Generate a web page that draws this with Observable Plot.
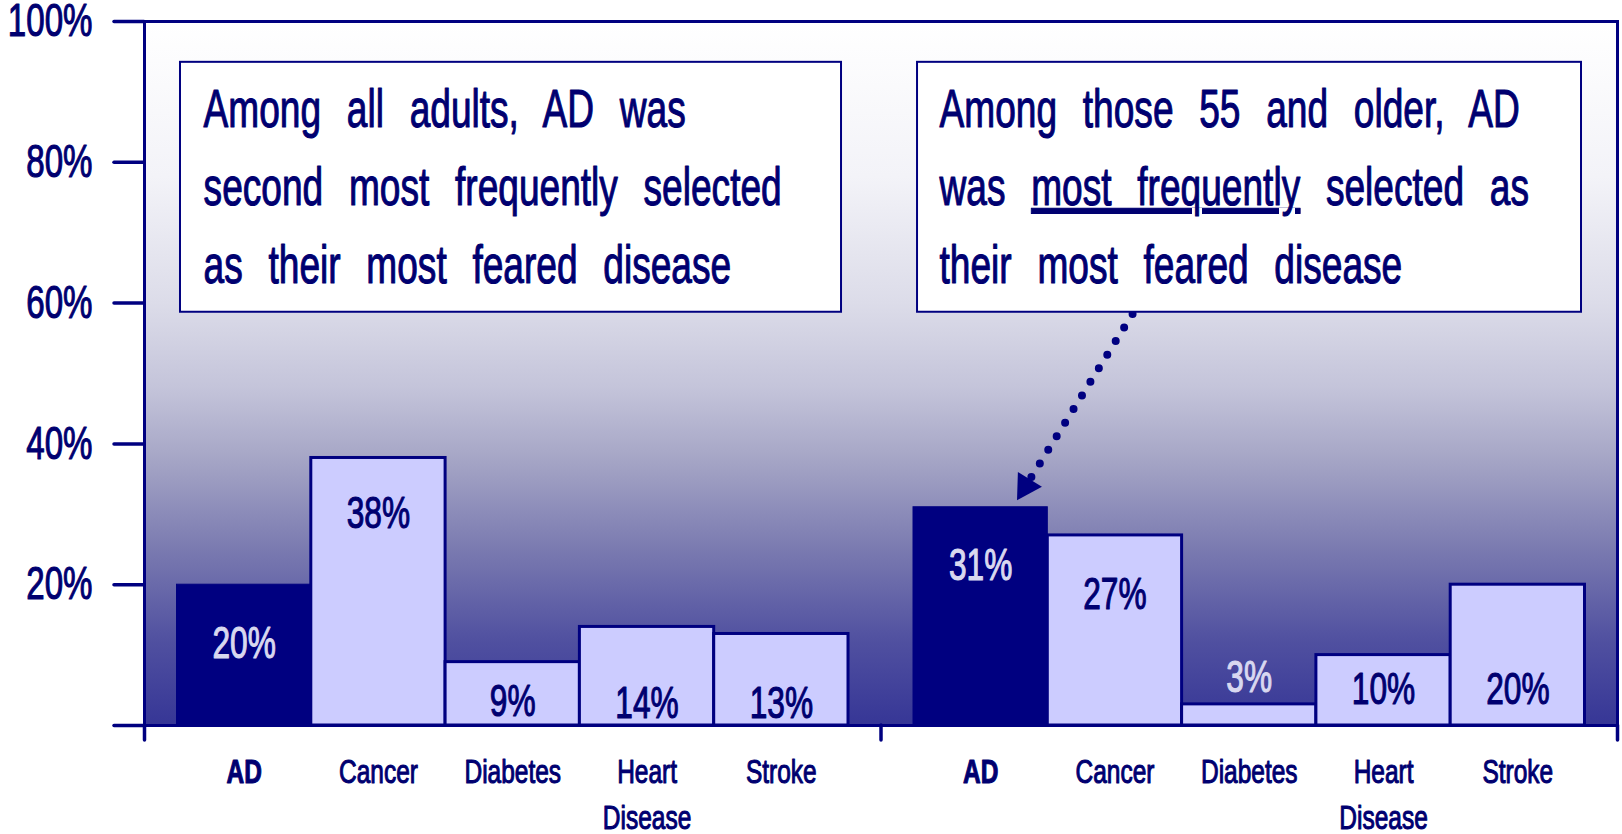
<!DOCTYPE html>
<html><head><meta charset="utf-8">
<script src="https://cdn.jsdelivr.net/npm/d3@7"></script>
<script src="https://cdn.jsdelivr.net/npm/@observablehq/plot@0.6"></script>
<style>
html,body{margin:0;padding:0;background:#fff;}
#chart svg{display:block;}
</style></head><body><div id="chart"></div>
<script>
// ---------- data ----------
const groups = ["All adults", "55 and older"];
const diseases = ["AD", "Cancer", "Diabetes", "Heart Disease", "Stroke"];
const tickLabels = ["AD", "Cancer", "Diabetes", "Heart\nDisease", "Stroke"];
const allAdults = [20, 38, 9, 14, 13];
const olderAdults = [31, 27, 3, 10, 20];
// vertical placement of each value label (in % units)
const allAdultsLabelAt = [11.6, 30, 3.4, 3.1, 3.1];
const olderAdultsLabelAt = [22.7, 18.5, 6.7, 5.0, 5.0];
const yTicks = [0, 20, 40, 60, 80, 100];
const yTickLabels = ["", "20%", "40%", "60%", "80%", "100%"];
const noteAll = ["Among all adults, AD was", "second most frequently selected", "as their most feared disease"];
const noteOlder = ["Among those 55 and older, AD", "was most frequently selected as", "their most feared disease"];
const underlined = "most frequently";
// annotation anchors (data units: x in bar slots, y in %)
const noteBoxX1 = [0.268, 5.756];
const noteBoxX2 = [5.19, 10.70];
const noteBoxY1 = [58.7, 58.7];
const noteBoxY2 = [94.2, 94.2];
const noteTextX = [0.44, 5.92];
const noteTextY = [92.9, 92.9];
const arrowFrom = [7.42, 60.4];
const arrowTo = [6.50, 32.1];

// ---------- layout / style ----------
const W = 1622, H = 834, ML = 144, MR = 5, MT = 21, MB = 109;
const NAVY = "#000080";
const TEXT = "#000070";
const LIGHT = "#ccccff";
const FONT = '"Liberation Sans", Arial, sans-serif';
const SQUEEZE = 0.72;      // condensed look of the original typeface
const NOTE_SQUEEZE = 0.70;
const pad = 0.242;
const groupWidth = diseases.length + 2 * pad;

const rows = [];
[allAdults, olderAdults].forEach((vals, g) => {
  const labs = g === 0 ? allAdultsLabelAt : olderAdultsLabelAt;
  vals.forEach((v, i) => {
    const x1 = g * groupWidth + pad + i;
    rows.push({group: groups[g], disease: diseases[i], label: tickLabels[i], value: v,
      x1, x2: x1 + 1, xc: x1 + 0.5, labelAt: labs[i], ad: i === 0});
  });
});
const labelByX = new Map(rows.map(d => [d.xc, d.label]));
const yLabelByTick = new Map(yTicks.map((t, i) => [t, yTickLabels[i]]));
const boundaries = groups.map((g, i) => i * groupWidth).concat([groups.length * groupWidth]);

const notes = [noteAll, noteOlder].map((lines, i) => ({
  x1: noteBoxX1[i], x2: noteBoxX2[i], y1: noteBoxY1[i], y2: noteBoxY2[i],
  tx: noteTextX[i], ty: noteTextY[i], text: lines.join("\n")
}));

// arrow geometry (converted through the same layout)
const pxX = (W - ML - MR) / (groups.length * groupWidth);
const pxY = (H - MT - MB) / 100;
const dxp = (arrowTo[0] - arrowFrom[0]) * pxX;
const dyp = -(arrowTo[1] - arrowFrom[1]) * pxY;
const len = Math.hypot(dxp, dyp);
const ux = dxp / len, uy = dyp / len;
const back = (px) => ({x: arrowTo[0] - ux * px / pxX, y: arrowTo[1] + uy * px / pxY});
const headC = back(15.5);
const linkEnd = back(24);
const headAngle = Math.atan2(ux, -uy) * 180 / Math.PI;

const chart = Plot.plot({
  width: W, height: H,
  marginLeft: ML, marginRight: MR, marginTop: MT, marginBottom: MB,
  x: {domain: [0, groups.length * groupWidth], axis: null},
  y: {domain: [0, 100], axis: null},
  style: {fontFamily: FONT, background: "white", color: NAVY},
  marks: [
    Plot.frame({fill: "url(#bgGrad)", stroke: "none"}),
    Plot.link([{}], {x1: () => arrowFrom[0], y1: () => arrowFrom[1], x2: () => linkEnd.x, y2: () => linkEnd.y,
      stroke: NAVY, strokeWidth: 8, strokeDasharray: "0 16", strokeLinecap: "round"}),
    Plot.dot([headC], {x: "x", y: "y", symbol: "triangle", r: 10.5, fill: NAVY, stroke: "none", rotate: headAngle}),
    Plot.rect(notes, {x1: "x1", x2: "x2", y1: "y1", y2: "y2", fill: "white", stroke: NAVY, strokeWidth: 2}),
    Plot.text(notes, {x: "tx", y: "ty", text: "text", textAnchor: "start", lineAnchor: "top",
      fontSize: 53, lineHeight: 1.47, fill: TEXT}),
    Plot.rect(rows.filter(d => d.ad), {x1: "x1", x2: "x2", y1: 0, y2: "value", fill: NAVY, stroke: NAVY, strokeWidth: 1}),
    Plot.rect(rows.filter(d => !d.ad), {x1: "x1", x2: "x2", y1: 0, y2: "value", fill: LIGHT, stroke: NAVY, strokeWidth: 3}),
    Plot.text(rows.filter(d => d.ad || d.labelAt > d.value), {x: "xc", y: "labelAt", text: d => d.value + "%", fill: "#d8d8f0", fontSize: 44}),
    Plot.text(rows.filter(d => !(d.ad || d.labelAt > d.value)), {x: "xc", y: "labelAt", text: d => d.value + "%", fill: TEXT, fontSize: 44}),
    Plot.frame({stroke: NAVY, strokeWidth: 3}),
    Plot.axisY(yTicks, {anchor: "left", tickSize: 30, tickPadding: 22, tickFormat: d => yLabelByTick.get(d),
      fontSize: 46, stroke: NAVY, strokeWidth: 3.5, strokeLinecap: "round", fill: TEXT}),
    Plot.axisX(boundaries, {anchor: "bottom", tickSize: 15, tickFormat: () => "", stroke: NAVY, strokeWidth: 3.5, strokeLinecap: "round"}),
    Plot.axisX(rows.filter(d => d.ad).map(d => d.xc), {anchor: "bottom", tickSize: 0, tickPadding: 24,
      tickFormat: d => labelByX.get(d), fontSize: 34, fontWeight: "bold", fill: TEXT, lineHeight: 1.37}),
    Plot.axisX(rows.filter(d => !d.ad).map(d => d.xc), {anchor: "bottom", tickSize: 0, tickPadding: 24,
      tickFormat: d => labelByX.get(d), fontSize: 34, fill: TEXT, lineHeight: 1.37})
  ]
});

document.getElementById("chart").appendChild(chart);

// gradient background definition
const svg = d3.select(chart);
const defs = svg.insert("defs", ":first-child");
const grad = defs.append("linearGradient").attr("id", "bgGrad")
  .attr("x1", 0).attr("y1", 0).attr("x2", 0).attr("y2", 1);
[[0, "#ffffff"], [0.22, "#f3f3f8"], [0.4, "#dcdce9"], [0.52, "#c4c4da"], [0.62, "#a6a6c6"],
 [0.75, "#7a7ab0"], [0.88, "#5050a0"], [1, "#363696"]]
  .forEach(([o, c]) => grad.append("stop").attr("offset", o).attr("stop-color", c));

const noteLines = [...noteAll, ...noteOlder];
svg.selectAll("text").each(function () {
  const isNote = noteLines.some(l => this.textContent.includes(l));
  // condensed, heavy look of the original typeface: squeeze about the anchor, thicken strokes
  const t = this.getAttribute("transform") || "";
  this.setAttribute("transform", (t + ` scale(${isNote ? NOTE_SQUEEZE : SQUEEZE},1)`).trim());
  const f = getComputedStyle(this).fill;
  this.style.stroke = f;
  this.style.strokeWidth = "1.1px";
  this.style.strokeLinejoin = "round";
  if (isNote) this.style.wordSpacing = "22px";
});

// underline emphasis inside the second note
svg.selectAll("tspan").each(function () {
  const t = this.textContent;
  const k = t.indexOf(underlined);
  if (noteOlder.includes(t) && k >= 0) {
    const sel = d3.select(this);
    sel.text(null);
    sel.append("tspan").text(t.slice(0, k));
    sel.append("tspan").style("text-decoration", "underline").style("text-decoration-thickness", "3px")
      .style("text-underline-offset", "8px").text(underlined);
    sel.append("tspan").text(t.slice(k + underlined.length));
  }
});
</script></body></html>
